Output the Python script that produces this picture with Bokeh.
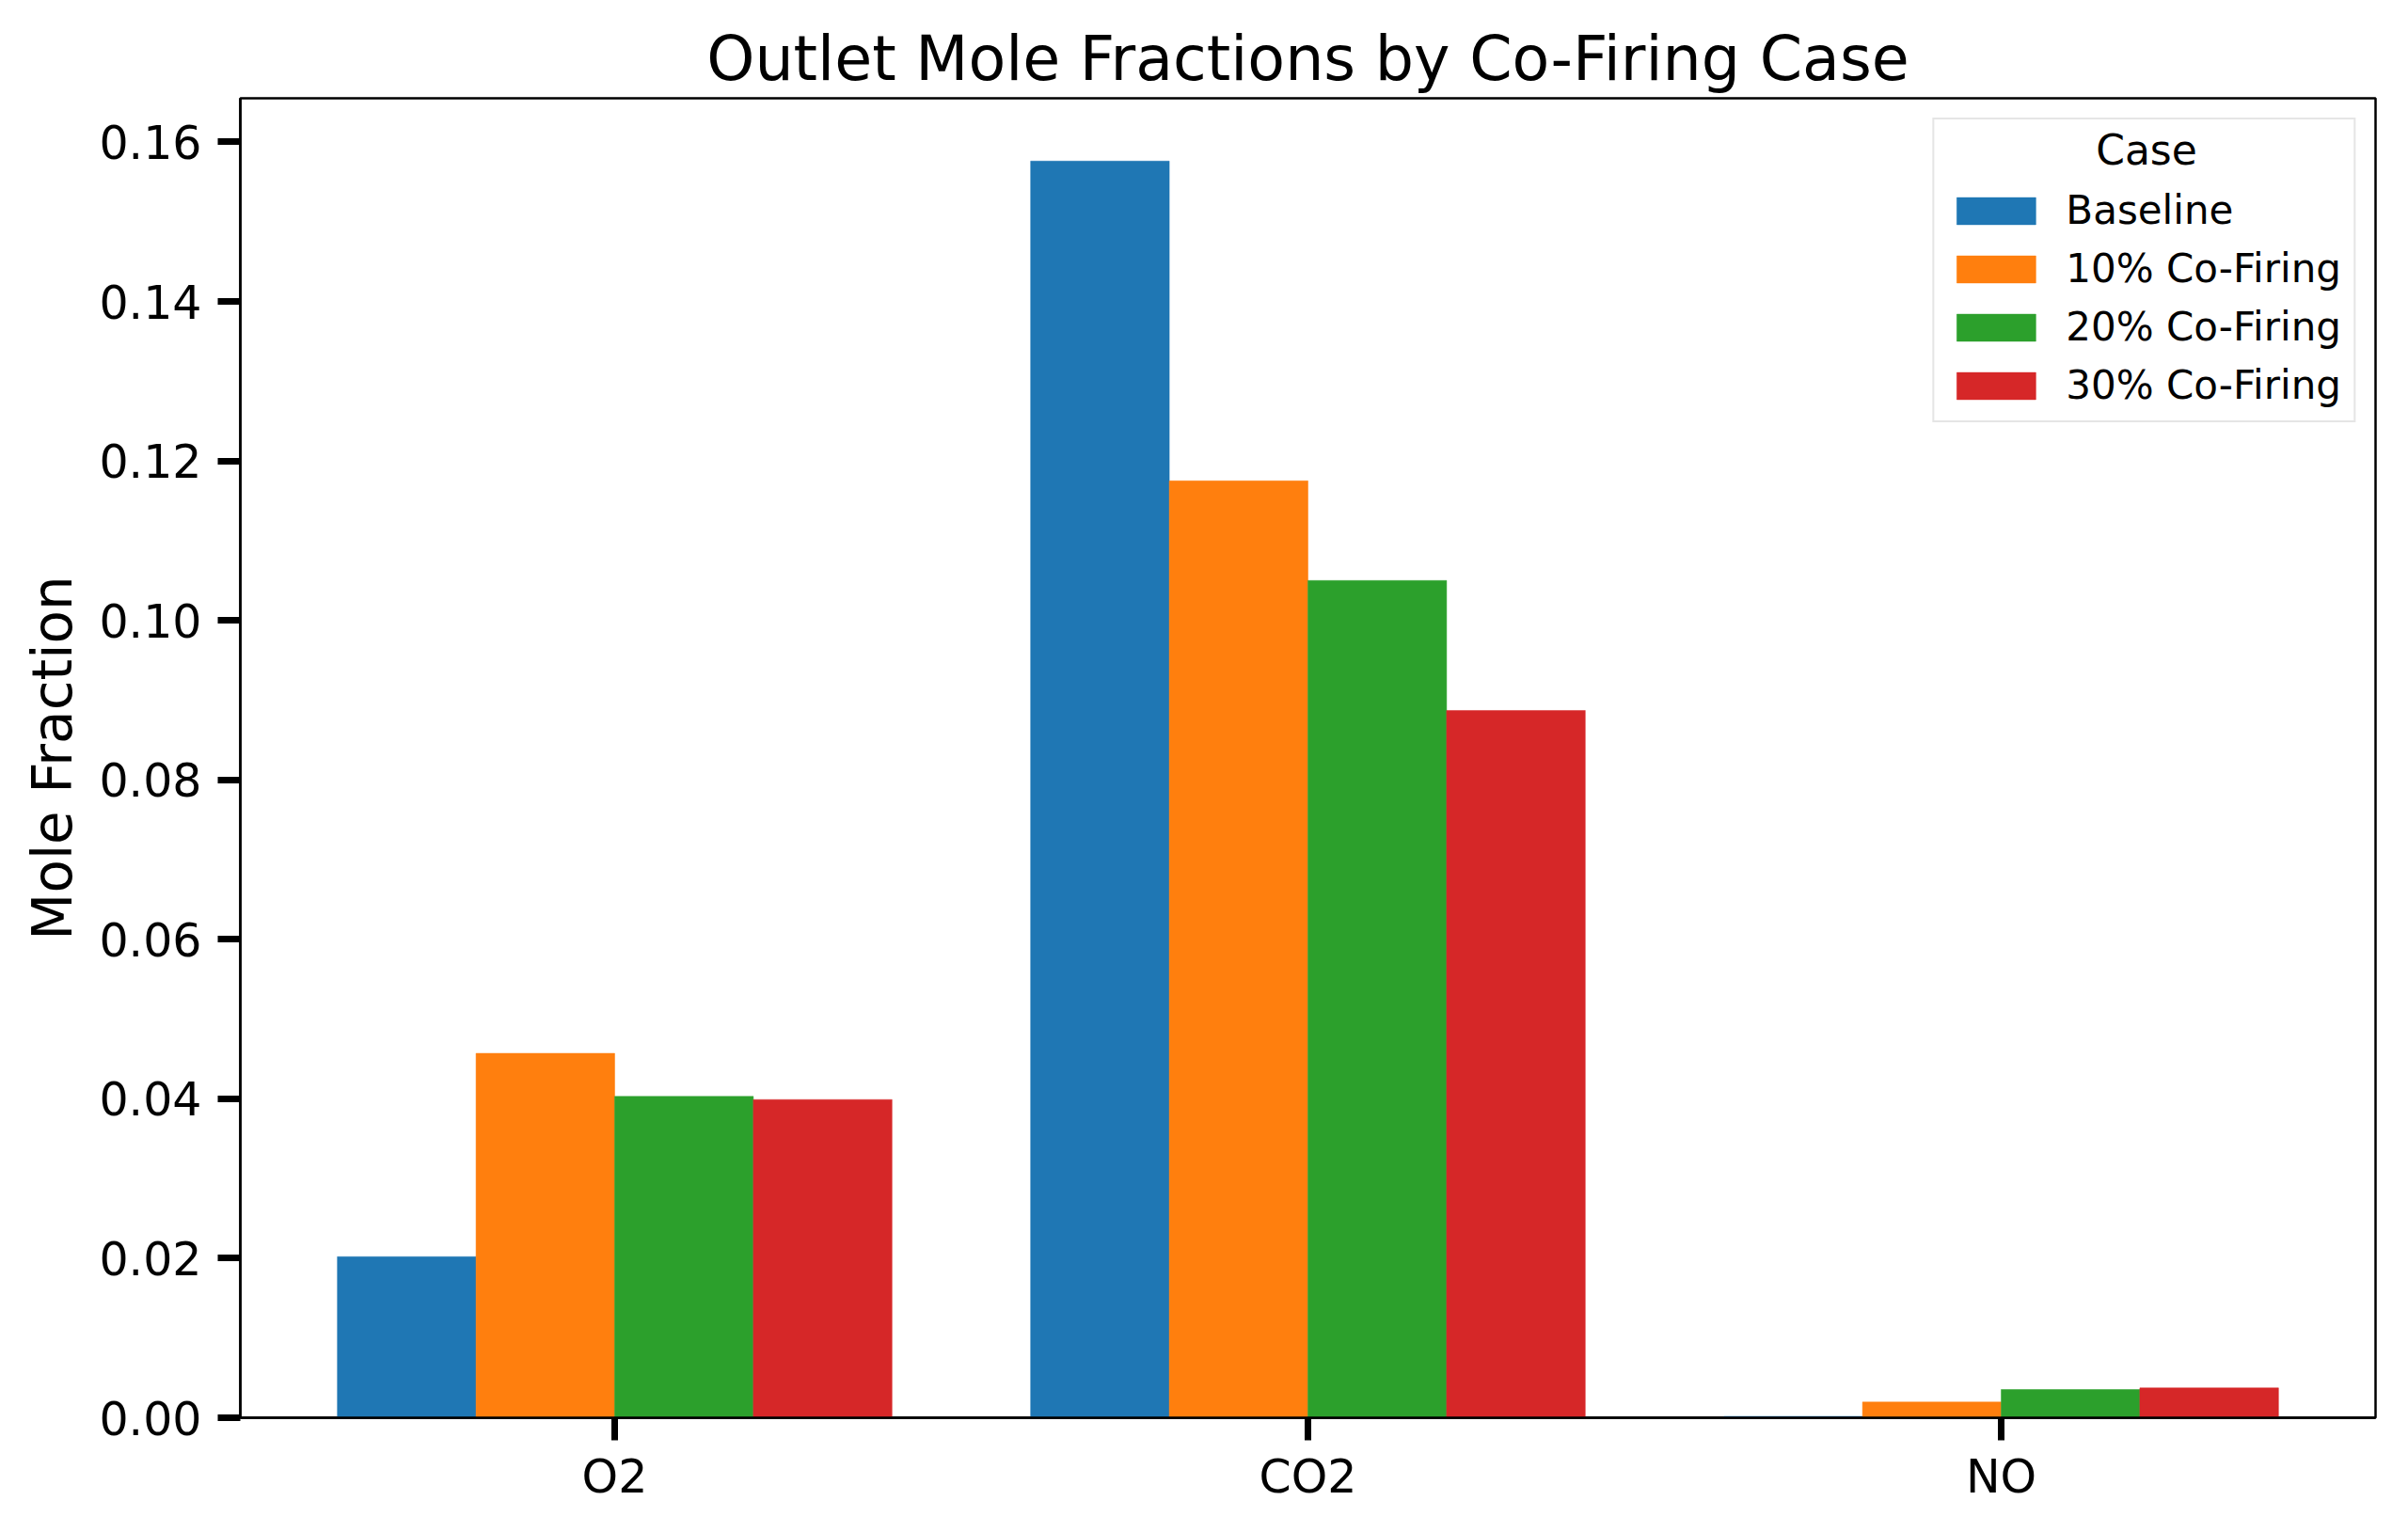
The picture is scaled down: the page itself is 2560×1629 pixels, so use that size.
from bokeh.plotting import figure
from bokeh.models import ColumnDataSource, Range1d, FixedTicker, NumeralTickFormatter, Legend, LegendItem, Label
from bokeh.transform import dodge
from bokeh.embed import file_html
from bokeh.resources import INLINE

# ---- data ----
categories = ["O2", "CO2", "NO"]
cases = ["Baseline", "10% Co-Firing", "20% Co-Firing", "30% Co-Firing"]
baseline = [0.0202, 0.1576, 0.00017]
cofiring_10 = [0.0457, 0.1175, 0.00197]
cofiring_20 = [0.0403, 0.1050, 0.00354]
cofiring_30 = [0.0399, 0.0887, 0.00374]
colors = ["#1f77b4", "#ff7f0e", "#2ca02c", "#d62728"]
y_ticks = [0.00, 0.02, 0.04, 0.06, 0.08, 0.10, 0.12, 0.14, 0.16]
legend_title = "Case"

series = [baseline, cofiring_10, cofiring_20, cofiring_30]
cols = ["s0", "s1", "s2", "s3"]
data = {"x": list(range(len(categories)))}
for c, s in zip(cols, series):
    data[c] = s
source = ColumnDataSource(data)

FONT = "DejaVu Sans"
bar_w = 0.2
n = len(cases)
offsets = [(i - (n - 1) / 2) * bar_w for i in range(n)]

ymax = max(max(s) for s in series) * 1.05
xpad = 0.14
x_start = -bar_w * n / 2 - xpad
x_end = len(categories) - 1 + bar_w * n / 2 + xpad

FW, FH = 2270, 1403

p = figure(
    width=2552, height=1621,
    frame_width=FW, frame_height=FH,
    min_border_left=255, min_border_right=27,
    min_border_top=104, min_border_bottom=114,
    x_range=Range1d(x_start, x_end),
    y_range=Range1d(0, ymax),
    output_backend="svg", toolbar_location=None,
    title="Outlet Mole Fractions by Co-Firing Case",
)

renderers = []
for c, off, col in zip(cols, offsets, colors):
    r = p.vbar(x=dodge("x", off), top=c, width=bar_w, bottom=0, source=source,
               fill_color=col, line_color=col, line_width=0.5)
    renderers.append(r)

legend = Legend(
    items=[LegendItem(label=lab, renderers=[r]) for lab, r in zip(cases, renderers)],
    location="top_right", margin=21,
    title=" ",
)
legend.title_text_font = FONT
legend.title_text_font_size = "44px"
legend.title_text_font_style = "normal"
legend.title_standoff = 8
legend.label_text_font = FONT
legend.label_text_font_size = "42px"
legend.label_text_color = "black"
legend.glyph_width = 105
legend.glyph_height = 36
legend.label_standoff = 22
legend.padding = 13
legend.spacing = 13
legend.border_line_color = "#cccccc"
legend.border_line_width = 2.5
legend.background_fill_alpha = 0.0
p.add_layout(legend)

# centred legend title placed over the legend box (positions in frame fractions)
lx = x_end - (2525 - 2281.5) / FW * (x_end - x_start)
ly = ymax * (1 - 55 / FH)
case_label = Label(x=lx, y=ly, text=legend_title, text_align="center",
                   text_baseline="alphabetic", text_font=FONT,
                   text_font_size="44px", text_color="black", level="overlay")
p.add_layout(case_label)

# title
p.title.text_font = FONT
p.title.text_font_size = "65px"
p.title.text_font_style = "normal"
p.title.text_color = "black"
p.title.align = "center"
p.title.standoff = 10

# axes
p.xaxis.ticker = FixedTicker(ticks=data["x"])
p.xaxis.major_label_overrides = {i: c for i, c in enumerate(categories)}
p.yaxis.ticker = FixedTicker(ticks=y_ticks)
p.yaxis.formatter = NumeralTickFormatter(format="0.00")
p.yaxis.axis_label = "Mole Fraction"

for ax in (p.xaxis, p.yaxis):
    ax.axis_line_width = 2.5
    ax.axis_line_color = "black"
    ax.major_tick_line_width = 7
    ax.major_tick_line_color = "black"
    ax.major_tick_in = 0
    ax.major_tick_out = 24
    ax.minor_tick_line_color = None
    ax.major_label_text_font = FONT
    ax.major_label_text_font_size = "49px"
    ax.major_label_text_color = "black"
    ax.axis_label_text_font = FONT
    ax.axis_label_text_font_size = "58px"
    ax.axis_label_text_font_style = "normal"
    ax.axis_label_text_color = "black"

p.xaxis.major_label_standoff = 10
p.yaxis.major_label_standoff = 17
p.yaxis.axis_label_standoff = 12

p.xgrid.grid_line_color = None
p.ygrid.grid_line_color = None
p.outline_line_color = "black"
p.outline_line_width = 2.5
p.outline_line_alpha = 1.0
p.background_fill_color = "white"
p.border_fill_color = "white"

open("out.html", "w").write(file_html(p, INLINE))
